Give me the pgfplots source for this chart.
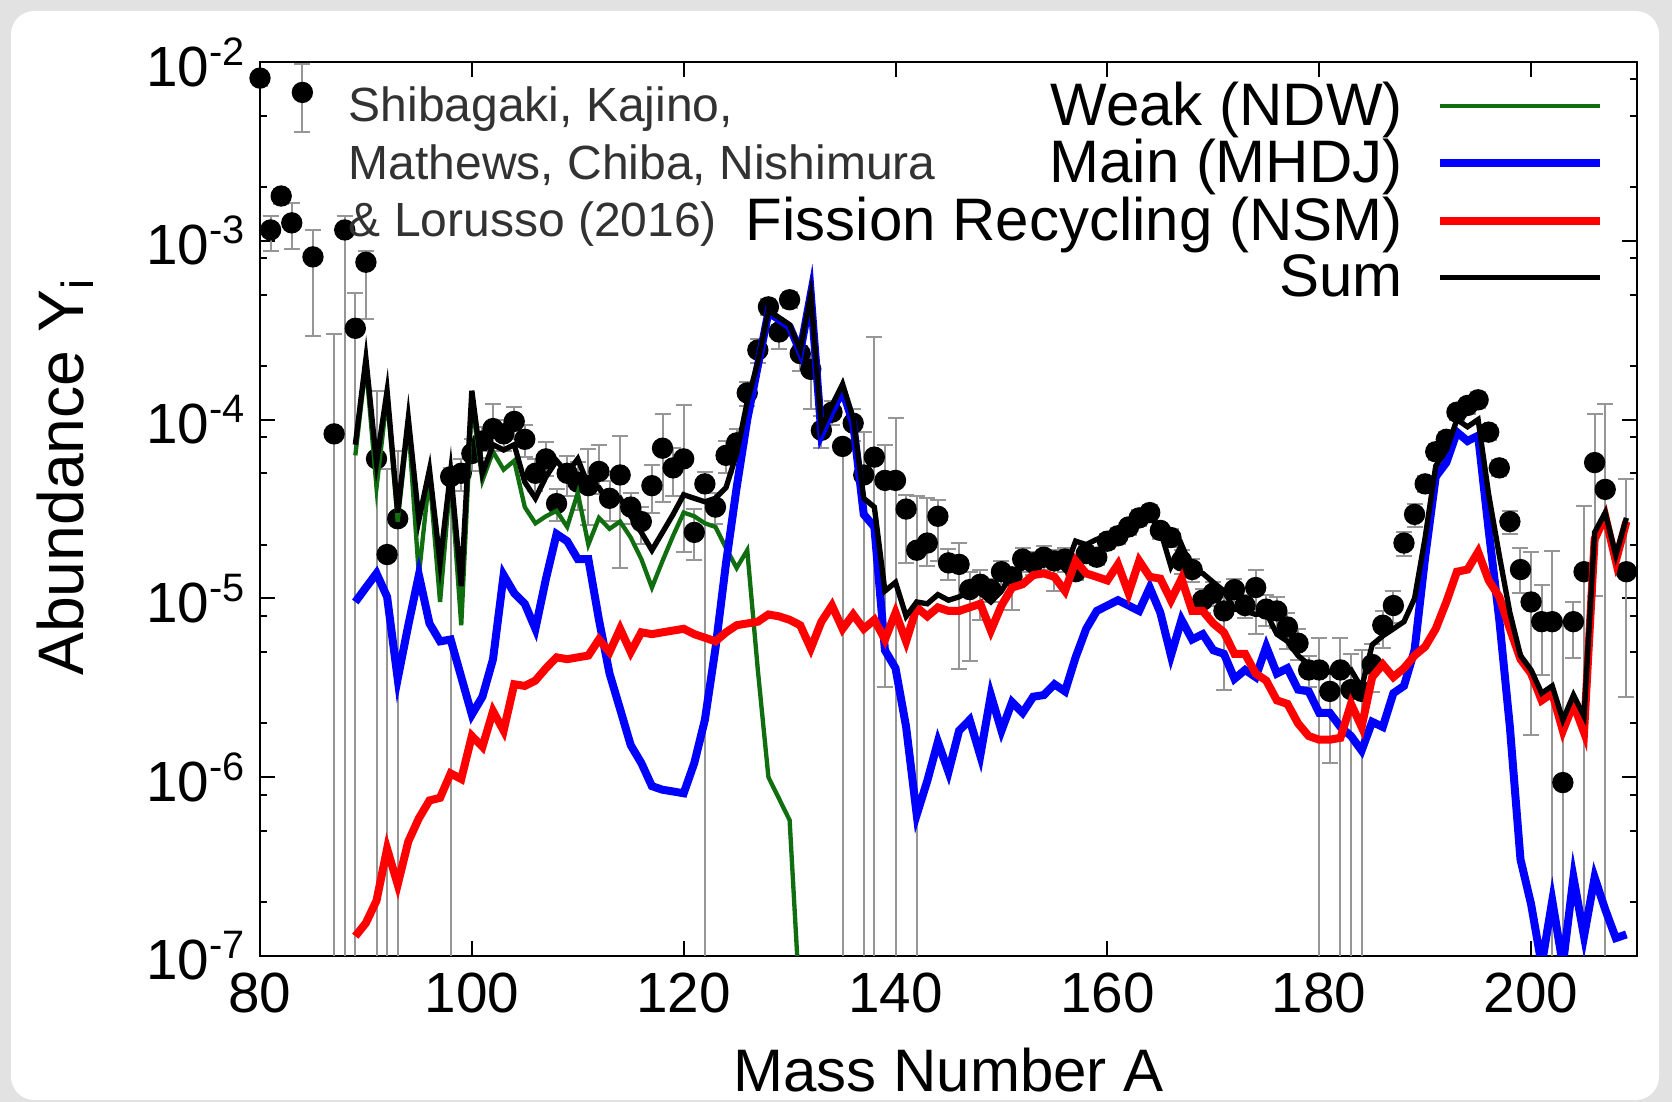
\documentclass[border=0pt]{standalone}
\usepackage{fontspec}
\setmainfont{Liberation Sans}
\usepackage{pgfplots}
\pgfplotsset{compat=1.18}
\definecolor{wkgreen}{RGB}{16,110,16}
\definecolor{bggray}{RGB}{226,226,226}
\definecolor{errgray}{RGB}{150,150,150}
\definecolor{attrgray}{RGB}{50,50,50}
\newcommand{\lstrut}{\rule[-4pt]{0pt}{13.1pt}}

\pgfplotstableread{
A Y P M
80 8.13e-3 0.10 0.10
81 1.15e-3 0.20 0.24
82 1.78e-3 0.10 0.10
83 1.26e-3 0.29 0.29
84 6.76e-3 0.45 0.40
85 8.13e-4 0.41 0.64
87 8.32e-5 2.63 0.99999
88 1.15e-3 0.20 0.99999
89 3.24e-4 0.58 0.99999
90 7.59e-4 0.15 0.52
91 6.03e-5 1.40 0.99999
92 1.76e-5 2.00 0.99999
93 2.79e-5 1.40 0.99999
98 4.79e-5 0.12 0.99999
99 5.01e-5 0.20 0.20
100 6.46e-5 0.20 0.20
101 7.59e-5 0.20 0.20
102 8.91e-5 0.38 0.25
103 8.32e-5 0.20 0.20
104 9.77e-5 0.20 0.20
105 7.76e-5 0.20 0.20
106 5.01e-5 0.20 0.20
107 6.03e-5 0.25 0.20
108 3.39e-5 0.20 0.20
109 5.01e-5 0.25 0.25
110 4.47e-5 0.30 0.30
111 4.27e-5 0.60 0.40
112 5.13e-5 0.40 0.25
113 3.63e-5 0.25 0.25
114 4.90e-5 0.66 0.70
115 3.24e-5 0.20 0.20
116 2.69e-5 0.20 0.25
117 4.27e-5 0.30 0.30
118 6.92e-5 0.55 0.50
119 5.37e-5 0.30 0.30
120 6.03e-5 1.00 0.70
121 2.34e-5 0.35 0.30
122 4.37e-5 0.17 0.99999
123 3.24e-5 0.20 0.20
124 6.31e-5 0.20 0.20
125 7.41e-5 0.20 0.20
126 1.41e-4 0.15 0.15
127 2.45e-4 0.15 0.15
128 4.27e-4 0.10 0.10
129 3.09e-4 0.10 0.20
130 4.68e-4 0.10 0.10
131 2.34e-4 0.10 0.20
132 1.91e-4 0.20 0.40
133 8.71e-5 0.20 0.20
134 1.10e-4 0.15 0.15
135 7.08e-5 0.07 0.99999
136 9.55e-5 0.20 0.20
137 4.90e-5 0.74 0.99999
138 6.17e-5 3.68 0.99999
139 4.57e-5 0.58 0.93
140 4.57e-5 1.24 0.99999
141 3.16e-5 0.20 0.50
142 1.86e-5 1.00 0.99999
143 2.04e-5 0.78 0.26
144 2.88e-5 0.23 0.44
145 1.58e-5 0.20 0.20
146 1.55e-5 0.32 0.74
147 1.12e-5 0.26 0.60
148 1.20e-5 0.20 0.37
149 1.12e-5 0.15 0.15
150 1.41e-5 0.15 0.15
151 1.32e-5 0.10 0.35
152 1.66e-5 0.15 0.15
153 1.58e-5 0.15 0.15
154 1.70e-5 0.15 0.15
155 1.62e-5 0.15 0.32
156 1.66e-5 0.15 0.15
157 1.41e-5 0.10 0.10
158 1.78e-5 0.10 0.10
159 1.70e-5 0.10 0.10
160 2.09e-5 0.10 0.10
161 2.24e-5 0.10 0.10
162 2.51e-5 0.10 0.10
163 2.82e-5 0.10 0.10
164 3.02e-5 0.10 0.10
165 2.40e-5 0.10 0.10
166 2.19e-5 0.12 0.12
167 1.62e-5 0.15 0.15
168 1.45e-5 0.15 0.15
169 9.77e-6 0.15 0.15
170 1.07e-5 0.15 0.15
171 8.51e-6 0.30 0.64
172 1.12e-5 0.15 0.15
173 9.12e-6 0.15 0.15
174 1.15e-5 0.26 0.45
175 8.71e-6 0.20 0.20
176 8.51e-6 0.20 0.20
177 6.92e-6 0.20 0.25
178 5.62e-6 0.20 0.20
179 3.98e-6 0.20 0.20
180 3.98e-6 0.51 0.99999
181 3.02e-6 0.30 0.60
182 3.98e-6 0.51 0.99999
183 3.09e-6 0.58 0.99999
184 3.02e-6 0.70 0.99999
185 4.27e-6 0.30 0.30
186 7.08e-6 0.20 0.25
187 9.12e-6 0.20 0.20
188 2.04e-5 0.15 0.15
189 2.95e-5 0.15 0.15
190 4.37e-5 0.10 0.10
191 6.61e-5 0.10 0.10
192 7.76e-5 0.10 0.10
193 1.10e-4 0.10 0.10
194 1.20e-4 0.10 0.10
195 1.29e-4 0.10 0.10
196 8.51e-5 0.10 0.10
197 5.37e-5 0.10 0.10
198 2.69e-5 0.15 0.15
199 1.45e-5 0.32 0.26
200 9.55e-6 0.91 0.82
201 7.41e-6 0.60 0.50
202 7.41e-6 1.50 0.99999
203 9.33e-7 6.90 0.99999
204 7.41e-6 0.29 0.37
205 1.41e-5 1.34 0.99999
206 5.75e-5 0.86 0.82
207 4.07e-5 2.00 0.99999
209 1.41e-5 2.31 0.80
}\obsdata

\pgfplotstableread{
A Y
89 6.31e-5
90 2.04e-4
91 4.17e-5
92 1.35e-4
93 2.69e-5
94 9.55e-5
95 1.35e-5
96 4.90e-5
97 9.55e-6
98 4.79e-5
99 7.08e-6
100 1.26e-4
101 4.57e-5
102 6.61e-5
103 5.25e-5
104 5.89e-5
105 3.24e-5
106 2.63e-5
107 2.88e-5
108 3.09e-5
109 2.51e-5
110 3.89e-5
111 2.00e-5
112 2.82e-5
113 2.45e-5
114 2.69e-5
115 2.19e-5
116 1.66e-5
117 1.15e-5
118 1.62e-5
119 2.24e-5
120 3.02e-5
121 2.88e-5
122 2.63e-5
123 2.51e-5
124 1.91e-5
125 1.48e-5
126 1.86e-5
127 3.98e-6
128 1.00e-6
129 7.59e-7
130 5.75e-7
131 5.01e-8
}\weak

\pgfplotstableread{
A Y
89 9.55e-6
90 1.15e-5
91 1.38e-5
92 1.02e-5
93 3.55e-6
94 7.08e-6
95 1.35e-5
96 7.24e-6
97 5.75e-6
98 5.89e-6
99 3.63e-6
100 2.24e-6
101 2.82e-6
102 4.57e-6
103 1.35e-5
104 1.07e-5
105 9.33e-6
106 6.76e-6
107 1.29e-5
108 2.29e-5
109 2.09e-5
110 1.66e-5
111 1.66e-5
112 7.59e-6
113 3.80e-6
114 2.40e-6
115 1.51e-6
116 1.20e-6
117 8.91e-7
118 8.51e-7
119 8.32e-7
120 8.13e-7
121 1.20e-6
122 2.09e-6
123 5.25e-6
124 1.58e-5
125 4.17e-5
126 1.00e-4
127 2.00e-4
128 3.98e-4
129 3.63e-4
130 3.31e-4
131 2.40e-4
132 5.01e-4
133 8.32e-5
134 1.12e-4
135 1.45e-4
136 9.55e-5
137 2.95e-5
138 2.51e-5
139 5.13e-6
140 4.07e-6
141 1.91e-6
142 6.17e-7
143 9.55e-7
144 1.58e-6
145 1.07e-6
146 1.82e-6
147 2.09e-6
148 1.32e-6
149 2.88e-6
150 1.82e-6
151 2.63e-6
152 2.29e-6
153 2.82e-6
154 2.88e-6
155 3.31e-6
156 3.02e-6
157 4.68e-6
158 6.76e-6
159 8.51e-6
160 9.12e-6
161 9.77e-6
162 9.12e-6
163 8.51e-6
164 1.15e-5
165 8.32e-6
166 4.79e-6
167 7.59e-6
168 5.89e-6
169 6.31e-6
170 5.13e-6
171 4.90e-6
172 3.55e-6
173 3.98e-6
174 3.63e-6
175 5.37e-6
176 3.80e-6
177 4.07e-6
178 3.09e-6
179 3.02e-6
180 2.29e-6
181 2.29e-6
182 1.91e-6
183 1.70e-6
184 1.41e-6
185 2.04e-6
186 1.91e-6
187 2.95e-6
188 3.24e-6
189 5.13e-6
190 1.70e-5
191 4.79e-5
192 5.75e-5
193 8.51e-5
194 7.59e-5
195 8.13e-5
196 2.40e-5
197 7.59e-6
198 1.91e-6
199 3.47e-7
200 1.95e-7
201 8.91e-8
202 2.04e-7
203 8.91e-8
204 2.75e-7
205 1.29e-7
206 2.75e-7
207 1.82e-7
208 1.26e-7
209 1.32e-7
}\main

\pgfplotstableread{
A Y
89 1.29e-7
90 1.53e-7
91 2.04e-7
92 3.98e-7
93 2.51e-7
94 4.37e-7
95 5.89e-7
96 7.41e-7
97 7.67e-7
98 1.05e-6
99 9.77e-7
100 1.70e-6
101 1.48e-6
102 2.34e-6
103 1.82e-6
104 3.31e-6
105 3.24e-6
106 3.47e-6
107 4.07e-6
108 4.68e-6
109 4.57e-6
110 4.68e-6
111 4.79e-6
112 5.89e-6
113 5.01e-6
114 6.76e-6
115 5.01e-6
116 6.46e-6
117 6.31e-6
118 6.46e-6
119 6.61e-6
120 6.76e-6
121 6.31e-6
122 6.03e-6
123 5.75e-6
124 6.46e-6
125 7.08e-6
126 7.24e-6
127 7.41e-6
128 8.13e-6
129 7.94e-6
130 7.59e-6
131 7.08e-6
132 5.25e-6
133 7.41e-6
134 9.12e-6
135 6.76e-6
136 8.13e-6
137 6.76e-6
138 7.59e-6
139 5.89e-6
140 8.32e-6
141 5.75e-6
142 8.91e-6
143 7.94e-6
144 8.91e-6
145 8.51e-6
146 8.51e-6
147 8.91e-6
148 9.33e-6
149 6.61e-6
150 9.12e-6
151 1.15e-5
152 1.20e-5
153 1.35e-5
154 1.38e-5
155 1.32e-5
156 1.10e-5
157 1.62e-5
158 1.38e-5
159 1.32e-5
160 1.26e-5
161 1.55e-5
162 1.07e-5
163 1.62e-5
164 1.32e-5
165 1.29e-5
166 9.77e-6
167 1.29e-5
168 8.51e-6
169 8.51e-6
170 7.24e-6
171 6.46e-6
172 4.90e-6
173 4.90e-6
174 3.80e-6
175 3.47e-6
176 2.69e-6
177 2.57e-6
178 2.00e-6
179 1.70e-6
180 1.62e-6
181 1.62e-6
182 1.66e-6
183 2.57e-6
184 1.91e-6
185 3.63e-6
186 4.27e-6
187 3.63e-6
188 4.07e-6
189 4.79e-6
190 5.37e-6
191 6.76e-6
192 9.55e-6
193 1.41e-5
194 1.45e-5
195 1.82e-5
196 1.26e-5
197 1.02e-5
198 6.76e-6
199 4.57e-6
200 3.80e-6
201 2.69e-6
202 2.95e-6
203 1.82e-6
204 2.57e-6
205 1.78e-6
206 2.14e-5
207 2.88e-5
208 1.62e-5
209 2.69e-5
}\fission

\pgfplotstableread{
A Y
89 7.24e-5
90 2.19e-4
91 5.75e-5
92 1.45e-4
93 3.02e-5
94 1.02e-4
95 2.75e-5
96 5.25e-5
97 1.58e-5
98 5.13e-5
99 1.17e-5
100 1.45e-4
101 5.01e-5
102 7.24e-5
103 6.76e-5
104 7.24e-5
105 4.47e-5
106 3.63e-5
107 4.79e-5
108 5.89e-5
109 5.01e-5
110 6.03e-5
111 4.27e-5
112 4.17e-5
113 3.39e-5
114 3.63e-5
115 2.88e-5
116 2.34e-5
117 1.86e-5
118 2.34e-5
119 2.95e-5
120 3.80e-5
121 3.63e-5
122 3.47e-5
123 3.63e-5
124 4.17e-5
125 6.46e-5
126 1.26e-4
127 2.09e-4
128 4.07e-4
129 3.72e-4
130 3.39e-4
131 2.45e-4
132 5.01e-4
133 8.91e-5
134 1.20e-4
135 1.58e-4
136 1.02e-4
137 3.63e-5
138 3.24e-5
139 1.10e-5
140 1.23e-5
141 7.94e-6
142 9.55e-6
143 9.33e-6
144 1.05e-5
145 9.77e-6
146 1.02e-5
147 1.10e-5
148 1.07e-5
149 9.55e-6
150 1.10e-5
151 1.38e-5
152 1.48e-5
153 1.58e-5
154 1.66e-5
155 1.66e-5
156 1.45e-5
157 2.09e-5
158 2.00e-5
159 2.14e-5
160 2.24e-5
161 2.45e-5
162 2.29e-5
163 2.69e-5
164 2.88e-5
165 2.40e-5
166 1.51e-5
167 2.00e-5
168 1.45e-5
169 1.38e-5
170 1.23e-5
171 1.10e-5
172 8.71e-6
173 8.51e-6
174 8.13e-6
175 8.32e-6
176 6.31e-6
177 5.75e-6
178 4.79e-6
179 4.27e-6
180 3.98e-6
181 3.89e-6
182 3.72e-6
183 3.98e-6
184 3.16e-6
185 5.50e-6
186 6.17e-6
187 6.76e-6
188 7.41e-6
189 1.00e-5
190 2.19e-5
191 5.50e-5
192 6.76e-5
193 1.00e-4
194 9.12e-5
195 1.00e-4
196 3.80e-5
197 1.74e-5
198 8.32e-6
199 4.79e-6
200 3.98e-6
201 2.95e-6
202 3.24e-6
203 2.09e-6
204 2.88e-6
205 2.19e-6
206 2.34e-5
207 3.02e-5
208 1.74e-5
209 2.82e-5
}\sumdata

\begin{document}
\begin{tikzpicture}
\useasboundingbox (0,0) rectangle (501.6pt,330.6pt);
\fill[bggray] (0,0) rectangle (501.6pt,330.6pt);
\fill[white, rounded corners=7pt] (3.3pt,0.6pt) rectangle (497.7pt,327.3pt);
\begin{axis}[
  at={(78pt,43.8pt)}, anchor=south west,
  scale only axis, width=413.1pt, height=268.2pt,
  xmin=80, xmax=210, ymin=1e-7, ymax=1e-2,
  ymode=log, log basis y=10,
  xtick={80,100,...,200},
  ytick={1e-7,1e-6,1e-5,1e-4,1e-3,1e-2},
  yticklabels={10\textsuperscript{-7},10\textsuperscript{-6},10\textsuperscript{-5},10\textsuperscript{-4},10\textsuperscript{-3},10\textsuperscript{-2}},
  minor ytick={2e-7,5e-7,8e-7,2e-6,5e-6,8e-6,2e-5,5e-5,8e-5,2e-4,5e-4,8e-4,2e-3,5e-3,8e-3},
  tick align=inside,
  major tick length=4.5pt, minor tick length=2.2pt,
  every tick/.style={black, line width=0.6pt},
  axis line style={line width=0.75pt},
  /pgf/number format/assume math mode=true,
  ticklabel style={font=\fontsize{17}{20}\selectfont},
  xticklabel style={inner sep=0pt, yshift=-5pt},
  yticklabel style={inner sep=0pt, xshift=-4pt},
  xlabel={Mass Number A},
  ylabel={Abundance Y\textsubscript{i}},
  xlabel style={font=\fontsize{18}{21}\selectfont, at={(axis description cs:0.5,-0.1521)}, anchor=base},
  ylabel style={font=\fontsize{19.3}{22}\selectfont, at={(axis description cs:-0.1283,0.536)}, anchor=base},
  clip mode=individual,
  legend plot pos=right,
  legend cell align=right,
  legend image code/.code={\draw[#1] (0pt,0pt) -- (48pt,0pt);},
  legend style={draw=none, fill=none, inner sep=0pt, outer sep=0pt,
    at={(rel axis cs:0.9763,0.978)}, anchor=north east,
    font=\fontsize{18}{18}\selectfont, nodes={inner sep=0pt},
    row sep=2.7pt, column sep=10.1pt},
]
\addplot[forget plot, only marks, mark=*, mark size=3pt, black,
  error bars/.cd, y dir=both, y explicit relative,
  error bar style={errgray, line width=0.6pt},
  error mark options={errgray, line width=0.6pt, rotate=90, mark size=2.4pt}]
  table[x=A, y=Y, y error plus=P, y error minus=M] {\obsdata};
\addplot[wkgreen, line width=1.3pt] table[x=A, y=Y] {\weak};
\addlegendentry{\lstrut Weak (NDW)}
\addplot[blue, line width=2.4pt] table[x=A, y=Y] {\main};
\addlegendentry{\lstrut Main (MHDJ)}
\addplot[red, line width=2.4pt] table[x=A, y=Y] {\fission};
\addlegendentry{\lstrut Fission Recycling (NSM)}
\addplot[black, line width=1.6pt] table[x=A, y=Y] {\sumdata};
\addlegendentry{\lstrut Sum}
\node[anchor=base west, inner sep=0pt, font=\fontsize{14.4}{17}\selectfont, text=attrgray] at (rel axis cs:0.064,0.933) {Shibagaki, Kajino,};
\node[anchor=base west, inner sep=0pt, font=\fontsize{14.4}{17}\selectfont, text=attrgray] at (rel axis cs:0.064,0.869) {Mathews, Chiba, Nishimura};
\node[anchor=base west, inner sep=0pt, font=\fontsize{14.4}{17}\selectfont, text=attrgray] at (rel axis cs:0.064,0.805) {\& Lorusso (2016)};
\end{axis}
\end{tikzpicture}
\end{document}
